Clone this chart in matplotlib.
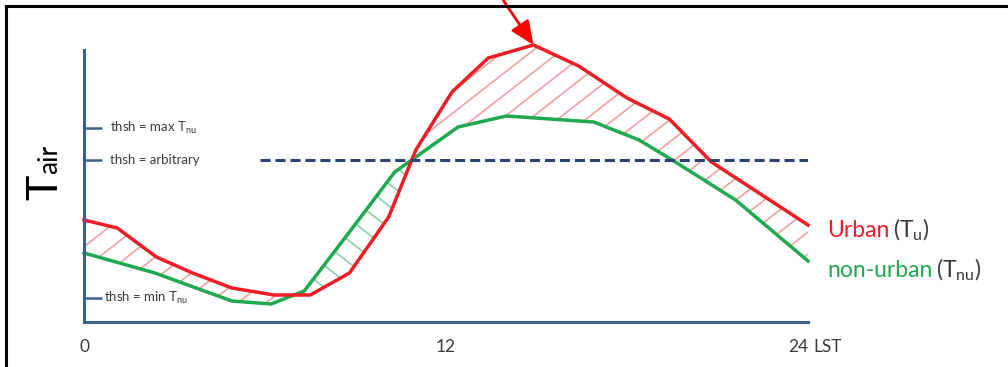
import numpy as np
import matplotlib.pyplot as plt
from matplotlib.lines import Line2D
from matplotlib.path import Path
from matplotlib.collections import LineCollection

plt.rcParams['font.family'] = ['Lato', 'DejaVu Sans']
plt.rcParams['mathtext.fontset'] = 'custom'
plt.rcParams['mathtext.rm'] = 'Lato'
plt.rcParams['mathtext.it'] = 'Lato:italic'
plt.rcParams['mathtext.default'] = 'regular'

# diurnal air temperature (arbitrary units) vs local solar time
hour_u = [0, 1.1, 2.4, 3.6, 4.9, 6.3, 7.5, 8.8, 10.1, 11.0, 12.2, 13.4, 14.9, 16.4, 18.0, 19.4, 20.8, 24]
t_u = [10.2, 9.4, 6.5, 4.9, 3.4, 2.7, 2.7, 4.9, 10.5, 17.2, 23.0, 26.4, 27.7, 25.6, 22.4, 20.3, 16.0, 9.7]
hour_nu = [0, 2.35, 4.9, 6.2, 7.3, 8.8, 10.3, 12.4, 14.0, 16.9, 18.4, 19.5, 21.6, 24]
t_nu = [6.9, 4.9, 2.1, 1.8, 3.1, 9.0, 15.0, 19.5, 20.6, 20.0, 18.2, 16.2, 12.2, 6.1]

thsh_values = [19.4, 16.2, 2.4]
thsh_labels = ['thsh = max T$_{nu}$', 'thsh = arbitrary', 'thsh = min T$_{nu}$']
arb_start = 5.83
xticks = [0, 12, 24]
xticklabels = ['0', '12', '24']

red = '#EE1C24'
green = '#1FAA4F'
axis_col = '#3F5F8F'
dash_col = '#2C4272'
txt_col = '#3A3A3A'

W, H = 1008, 367
fig = plt.figure(figsize=(W / 100, H / 100), dpi=100)
ax = fig.add_axes([84 / W, (H - 322) / H, (808 - 84) / W, 285 / H])
ax.set_xlim(0, 24)
ax.set_ylim(0, 28.5)

for s in ['top', 'right']:
    ax.spines[s].set_visible(False)
for s in ['left', 'bottom']:
    ax.spines[s].set_color(axis_col)
    ax.spines[s].set_linewidth(2.2)
ax.spines['left'].set_bounds(0, 27.2)

# hatching between curves
xs = np.union1d(hour_u, hour_nu)
ru = np.interp(xs, hour_u, t_u)
gn = np.interp(xs, hour_nu, t_nu)


def hatch(where, slope_px, color):
    coll = ax.fill_between(xs, ru, gn, where=where, interpolate=True,
                           facecolor='none', edgecolor='none')
    clip = Path.make_compound_path(*coll.get_paths())
    sx = 724 / 24
    sy = 285 / 28.5
    m = slope_px * sx / sy
    step = 22 / sy
    lo = min(0, -m * 24) - 2
    hi = 28.5 + max(0, -m * 24) + 2
    segs = [[(0, c), (24, c + m * 24)] for c in np.arange(lo, hi, step)]
    lc = LineCollection(segs, colors=color, linewidths=1.2)
    ax.add_collection(lc)
    lc.set_clip_path(clip, ax.transData)


hatch(ru >= gn, 0.78, '#F3A0A0')
hatch(gn > ru, -0.78, '#8ECFA8')

ax.plot(hour_nu, t_nu, color=green, lw=2.5, solid_joinstyle='miter', clip_on=False)
ax.plot(hour_u, t_u, color=red, lw=2.5, solid_joinstyle='miter', clip_on=False)

ax.plot([arb_start, 24], [thsh_values[1]] * 2, color=dash_col, lw=2.2,
        dashes=(3.3, 1.6))

ax.set_yticks(thsh_values)
ax.set_yticklabels([])
ax.tick_params(axis='y', direction='in', length=13, width=1.8, color=axis_col)
for v, lab, off in zip(thsh_values, thsh_labels, [26, 26, 20]):
    ax.annotate(lab, xy=(0, v), xytext=(off, 0), textcoords='offset pixels',
                va='center', ha='left', fontsize=9.5, color=txt_col)

ax.set_xticks(xticks)
ax.set_xticklabels(xticklabels, fontsize=12.5, color=txt_col)
ax.tick_params(axis='x', length=0, pad=12)
ax.get_xticklabels()[-1].set_ha('right')
ax.annotate('LST', xy=(24, 0), xytext=(5, -25), textcoords='offset pixels',
            ha='left', va='center', fontsize=12.5, color=txt_col)

# series labels
fig.canvas.draw()
rend = fig.canvas.get_renderer()
t1 = ax.annotate('Urban', xy=(hour_u[-1], t_u[-1]), xytext=(19, -12),
                 textcoords='offset pixels', va='baseline', fontsize=16.5, color=red)
w1 = t1.get_window_extent(rend).width
ax.annotate('(T$_u$)', xy=(hour_u[-1], t_u[-1]), xytext=(19 + w1 + 4, -12),
            textcoords='offset pixels', va='baseline', fontsize=16.5, color=txt_col)
t2 = ax.annotate('non-urban', xy=(hour_nu[-1], t_nu[-1]), xytext=(19, -16),
                 textcoords='offset pixels', va='baseline', fontsize=16.5, color=green)
w2 = t2.get_window_extent(rend).width
ax.annotate('(T$_{nu}$)', xy=(hour_nu[-1], t_nu[-1]), xytext=(19 + w2 + 4, -16),
            textcoords='offset pixels', va='baseline', fontsize=16.5, color=txt_col)

# y label
t_big = fig.text(57 / W, 1 - 200 / H, 'T', rotation=90, rotation_mode='anchor',
                 ha='left', va='baseline', fontsize=31, color='black')
fig.canvas.draw()
tb = t_big.get_window_extent(rend)
fig.text(57 / W, (tb.y1 + 1) / H, 'air', rotation=90, rotation_mode='anchor',
         ha='left', va='baseline', fontsize=19, color='black')

# arrow to the peak
ipk = int(np.argmax(t_u))
ax.annotate('', xy=(hour_u[ipk], t_u[ipk]), xycoords='data',
            xytext=(503 / W, 1.0), textcoords='figure fraction',
            arrowprops=dict(arrowstyle='-|>,head_length=0.8,head_width=0.35',
                            mutation_scale=18, color='#FF0000', lw=2,
                            shrinkA=0, shrinkB=0),
            annotation_clip=False)

# frame
fig.add_artist(Line2D([6 / W, 1], [1 - 6 / H] * 2, transform=fig.transFigure,
                      color='black', lw=2.2))
fig.add_artist(Line2D([6 / W] * 2, [0, 1 - 6 / H], transform=fig.transFigure,
                      color='black', lw=2.2))

fig.savefig('out.png', dpi=100)
